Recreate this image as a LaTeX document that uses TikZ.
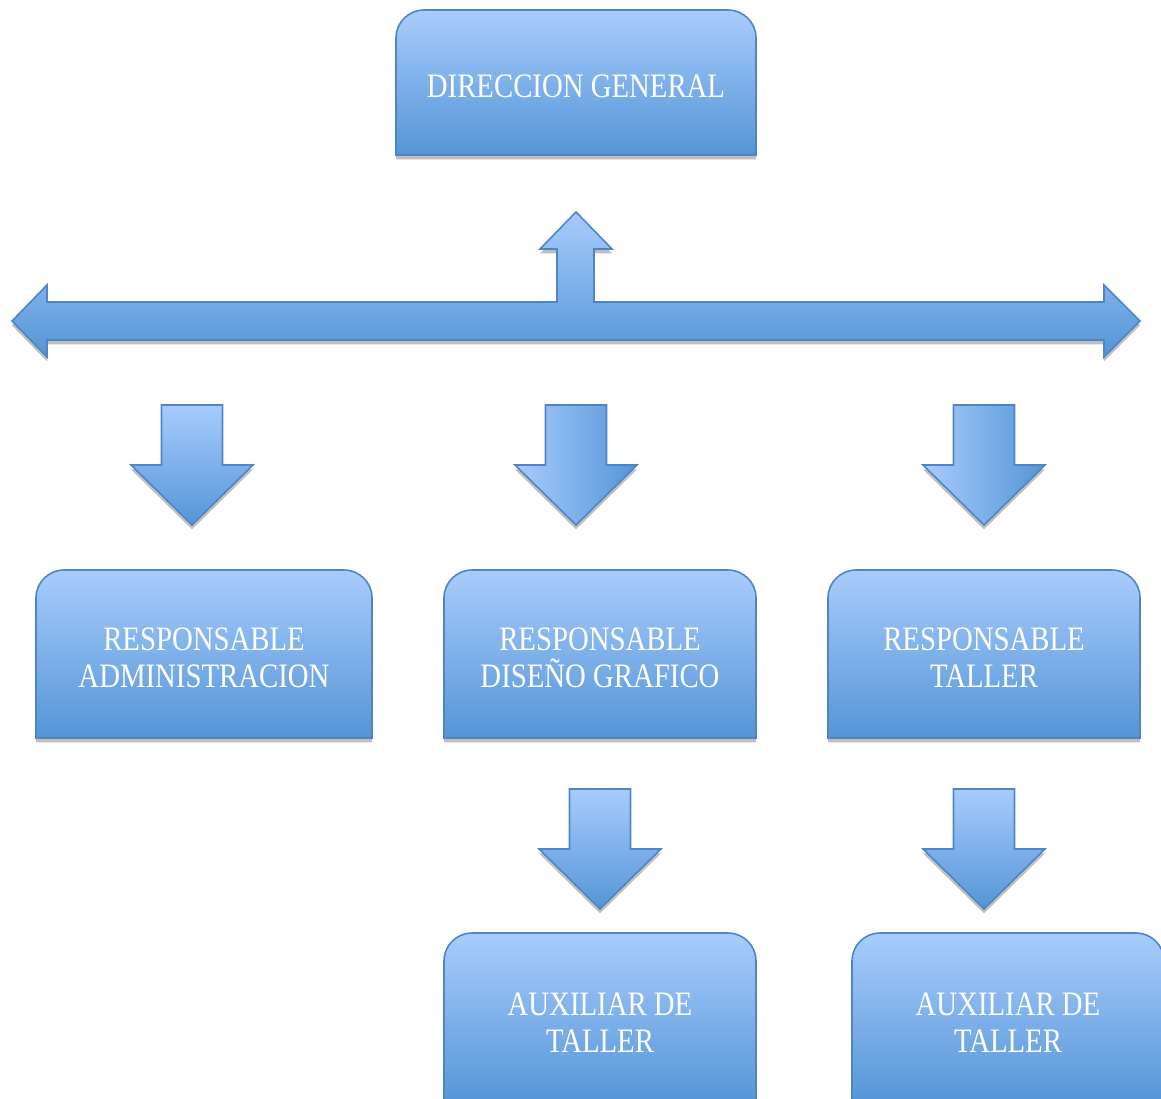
\documentclass[tikz,border=0pt]{standalone}
\usepackage{fontspec}
\setmainfont{Liberation Serif}[FakeStretch=0.84]
\usepackage{tikz}
\usetikzlibrary{shadows}
\definecolor{orgtop}{RGB}{168,204,253}
\definecolor{orgbot}{RGB}{84,149,215}
\definecolor{orgline}{RGB}{82,132,196}

% box with rounded top corners, text node in it
\newcommand{\puesto}[6]{%
  \path[cargo] (#2,#5) -- (#2,{#3+28})
    .. controls (#2,{#3+12.5}) and ({#2+12.5},#3) .. ({#2+28},#3)
    -- ({#4-28},#3)
    .. controls ({#4-12.5},#3) and (#4,{#3+12.5}) .. (#4,{#3+28})
    -- (#4,#5) -- cycle;
  \node[cargotext] (#1) at ({(#2+#4)/2},{(#3+#5)/2+4}) {#6};}

\begin{document}
\begin{tikzpicture}[
  x=0.02cm, y=-0.02cm,
  sombra/.style={drop shadow={shadow xshift=0pt, shadow yshift=-2.5pt,
                 opacity=.25, fill=black}},
  cargo/.style={draw=orgline, line width=0.9pt,
                top color=orgtop, bottom color=orgbot, sombra},
  cargotext/.style={text=white, align=center,
                    font=\fontsize{19.5}{21.1}\selectfont},
  flecha/.style={draw=orgline, line width=0.9pt,
                 top color=orgtop, bottom color=orgbot, sombra},
  flechalat/.style={draw=orgline, line width=0.9pt,
                    left color=orgtop, right color=orgbot, sombra}
]
\useasboundingbox (0,0) rectangle (1161,1099);
\clip (0,0) rectangle (1161,1099);

\puesto{dir}{396}{10}{756}{155}{DIRECCION GENERAL}

% arrow up and to both sides
\path[flecha] (12,321) -- (47,285) -- (47,302) -- (557,302) -- (557,249)
  -- (540,249) -- (576,212) -- (612,249) -- (594,249) -- (594,302)
  -- (1104,302) -- (1104,285) -- (1140,321) -- (1104,357) -- (1104,340)
  -- (47,340) -- (47,357) -- cycle;

% arrows down
\foreach \cx/\ty/\sty in {192/405/flecha, 576/405/flechalat,
                          984/405/flechalat, 600/789/flecha, 984/789/flecha}
  \path[\sty] ({\cx-30.5},\ty) -- ({\cx+30.5},\ty) -- ({\cx+30.5},{\ty+60})
    -- ({\cx+61},{\ty+60}) -- (\cx,{\ty+120}) -- ({\cx-61},{\ty+60})
    -- ({\cx-30.5},{\ty+60}) -- cycle;

\puesto{admin}{36}{570}{372}{738}{RESPONSABLE\\ADMINISTRACION}
\puesto{diseno}{444}{570}{756}{738}{RESPONSABLE\\DISEÑO GRAFICO}
\puesto{taller}{828}{570}{1140}{738}{RESPONSABLE\\TALLER}

\puesto{auxdis}{444}{933}{756}{1104}{AUXILIAR DE\\TALLER}
\puesto{auxtal}{852}{933}{1164}{1104}{AUXILIAR DE\\TALLER}
\end{tikzpicture}
\end{document}
